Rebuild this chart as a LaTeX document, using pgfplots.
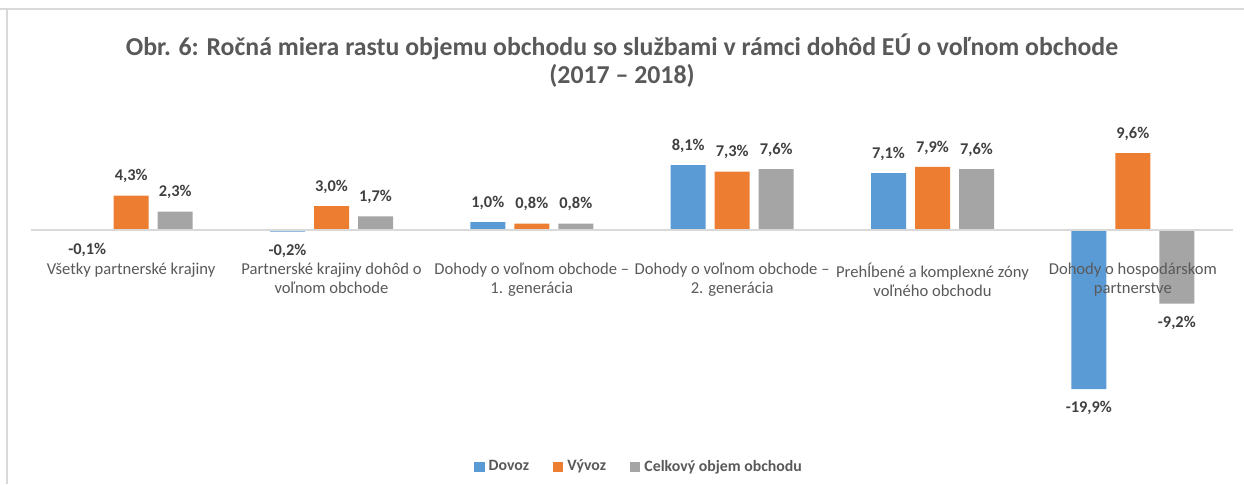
\documentclass[border=0pt]{standalone}
\usepackage{pgfplots}
\pgfplotsset{compat=1.18}
\usepackage{pgfplotstable}
\usepackage{fontspec}
\setmainfont{Carlito}

\definecolor{dovoz}{HTML}{5B9BD5}
\definecolor{vyvoz}{HTML}{ED7D31}
\definecolor{celk}{HTML}{A5A5A5}
\definecolor{txt}{HTML}{595959}
\definecolor{lbl}{HTML}{404040}
\definecolor{zero}{HTML}{D9D9D9}

% x  value  label
\pgfplotstableread{
x y lab
0 -0.1 -0,1
1 -0.2 -0,2
2 1.0 1,0
3 8.1 8,1
4 7.1 7,1
5 -19.9 -19,9
}\dovoz
\pgfplotstableread{
x y lab
0 4.3 4,3
1 3.0 3,0
2 0.8 0,8
3 7.3 7,3
4 7.9 7,9
5 9.6 9,6
}\vyvoz
\pgfplotstableread{
x y lab
0 2.3 2,3
1 1.7 1,7
2 0.8 0,8
3 7.6 7,6
4 7.6 7,6
5 -9.2 -9,2
}\celkovy

\begin{document}
\begin{tikzpicture}
\path[use as bounding box] (0,0) rectangle (622pt,242pt);
\draw[zero, line width=0.8pt] (0,237.5pt) -- (622pt,237.5pt);
\draw[zero, line width=0.8pt] (3.5pt,237.5pt) -- (3.5pt,0);
\node[font=\bfseries\fontsize{12.9}{14}\selectfont, text=txt, align=center]
  at (311pt,211.5pt) {Obr. 6: Ročná miera rastu objemu obchodu so službami v rámci dohôd EÚ o voľnom obchode\\(2017 – 2018)};
\begin{axis}[
    at={(15.5pt,32pt)}, anchor=south west,
    scale only axis, width=601pt, height=155pt,
    clip=false,
    xmin=-0.5, xmax=5.5,
    ymin=-23.75, ymax=15,
    axis x line=middle, axis y line=none,
    x axis line style={draw=zero, line width=0.6pt, -},
    hide obscured x ticks=false,
    axis on top,
    ytick=\empty,
    xtick={0,...,5},
    major tick length=0pt,
    xticklabels={
        {Všetky partnerské krajiny},
        {Partnerské krajiny dohôd o\\voľnom obchode},
        {Dohody o voľnom obchode –\\1. generácia},
        {Dohody o voľnom obchode –\\2. generácia},
        {Prehĺbené a komplexné zóny\\voľného obchodu},
        {Dohody o hospodárskom\\partnerstve}},
    xticklabel style={anchor=north, align=center, inner sep=0pt, yshift=-16.5pt,
        font=\fontsize{8.3}{9.5}\selectfont, text=txt},
    ybar=4.5pt, bar width=17.5pt,
    point meta=explicit symbolic,
    visualization depends on={rawy \as \rawy},
    nodes near coords={\pgfplotspointmeta\%},
    every node near coord/.append style={font=\bfseries\fontsize{8.2}{9}\selectfont,
        text=lbl, inner xsep=0pt, inner ysep=6pt,
        /utils/exec={\ifdim\rawy pt<0pt \def\nnanchor{north}\else\def\nnanchor{south}\fi},
        anchor=\nnanchor},
    legend image code/.code={\fill[#1] (0pt,-2.6pt) rectangle (5.2pt,2.6pt);},
    legend columns=3,
    legend style={at={(axis description cs:0.5067,-0.1516)}, anchor=center,
        draw=none, fill=none, font=\bfseries\fontsize{7.9}{9}\selectfont, text=txt,
        nodes={inner xsep=2pt},
        /tikz/every even column/.append style={column sep=10pt}},
]
\addplot[fill=dovoz, draw=none] table[x=x, y=y, meta=lab] {\dovoz};
\addplot[fill=vyvoz, draw=none] table[x=x, y=y, meta=lab] {\vyvoz};
\addplot[fill=celk, draw=none] table[x=x, y=y, meta=lab] {\celkovy};
\legend{Dovoz, Vývoz, Celkový objem obchodu}
\end{axis}
\end{tikzpicture}
\end{document}
